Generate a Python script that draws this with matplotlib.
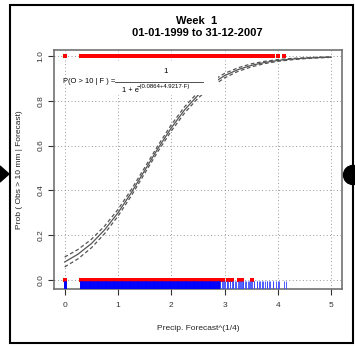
import matplotlib
matplotlib.use("Agg")
import matplotlib.pyplot as plt
from matplotlib.patches import Rectangle, Polygon, Ellipse

plt.rcParams["font.family"] = ["Liberation Sans", "DejaVu Sans"]

title = "Week  1\n01-01-1999 to 31-12-2007"
formula_lhs = "P(O > 10 | F ) ="
formula_den = "1 + e"
formula_exp = "\u2212(0.0864+4.9217\u00b7F)"

# fitted curve and confidence band
curve_f = [0.0, 0.25, 0.5, 0.75, 1.0, 1.25, 1.5, 1.75, 2.0, 2.25, 2.5,
           2.75, 3.0, 3.25, 3.5, 3.75, 4.0, 4.25, 4.5, 4.75, 5.0]
curve_p = [0.079, 0.114, 0.161, 0.223, 0.299, 0.389, 0.488, 0.587, 0.679,
           0.760, 0.825, 0.875, 0.913, 0.940, 0.959, 0.972, 0.981, 0.987,
           0.991, 0.994, 0.996]
band_w = [0.022, 0.021, 0.019, 0.017, 0.015, 0.014, 0.013, 0.013, 0.014,
          0.014, 0.013, 0.012, 0.010, 0.008, 0.007, 0.005, 0.004, 0.003,
          0.002, 0.0015, 0.001]

# forecasts (transformed) with obs > 10 mm
hits_f = [0.0,
          0.30, 0.35, 0.40, 0.45, 0.50, 0.55, 0.60, 0.65, 0.70, 0.75, 0.80,
          0.85, 0.90, 0.95, 1.00, 1.05, 1.10, 1.15, 1.20, 1.25, 1.30, 1.35,
          1.40, 1.45, 1.50, 1.55, 1.60, 1.65, 1.70, 1.75, 1.80, 1.85, 1.90,
          1.95, 2.00, 2.05, 2.10, 2.15, 2.20, 2.25, 2.30, 2.35, 2.40, 2.45,
          2.50, 2.55, 2.60, 2.65, 2.70, 2.75, 2.80, 2.85, 2.90, 2.95, 3.00,
          3.05, 3.10, 3.15, 3.20, 3.25, 3.30, 3.35, 3.40, 3.45, 3.50, 3.55,
          3.60, 3.65, 3.70, 3.75, 3.80, 3.85, 3.90, 4.00, 4.12]
# forecasts with obs <= 10 mm
miss_f = [0.0,
          0.30, 0.35, 0.40, 0.45, 0.50, 0.55, 0.60, 0.65, 0.70, 0.75, 0.80,
          0.85, 0.90, 0.95, 1.00, 1.05, 1.10, 1.15, 1.20, 1.25, 1.30, 1.35,
          1.40, 1.45, 1.50, 1.55, 1.60, 1.65, 1.70, 1.75, 1.80, 1.85, 1.90,
          1.95, 2.00, 2.05, 2.10, 2.15, 2.20, 2.25, 2.30, 2.35, 2.40, 2.45,
          2.50, 2.55, 2.60, 2.65, 2.70, 2.75, 2.80, 2.85, 2.90, 2.97,
          3.07, 3.14, 3.27, 3.32, 3.52]
# extra sparse forecasts in the upper tail (rug only)
tail_f = [2.92, 2.98, 3.04, 3.11, 3.16, 3.22, 3.29, 3.35, 3.38, 3.44,
          3.48, 3.56, 3.61, 3.66, 3.72, 3.79, 3.84, 3.91, 3.97, 4.03, 4.15]

fig = plt.figure(figsize=(3.55, 3.47), dpi=100)
ax = fig.add_axes([0.152, 0.167, 0.811, 0.689])

grid_kw = dict(color="#999999", lw=0.7, ls=(0, (1, 2.5)), zorder=0)
for gx in [0, 1, 2, 3, 4, 5]:
    ax.axvline(gx, **grid_kw)
for gy in [0, 0.2, 0.4, 0.6, 0.8, 1.0]:
    ax.axhline(gy, **grid_kw)

lo = [p - w for p, w in zip(curve_p, band_w)]
hi = [p + w for p, w in zip(curve_p, band_w)]
ax.plot(curve_f, curve_p, color="#555555", lw=0.9, zorder=2)
ax.plot(curve_f, lo, color="#555555", lw=0.9, ls=(0, (3, 2)), zorder=2)
ax.plot(curve_f, hi, color="#555555", lw=0.9, ls=(0, (3, 2)), zorder=2)

ax.plot(hits_f, [1.0] * len(hits_f), "s", color="red", ms=2.4, mew=0, zorder=3)
ax.plot(miss_f, [0.0] * len(miss_f), "s", color="red", ms=2.4, mew=0, zorder=3)

rug_main = hits_f[:54] + miss_f[:54]
ax.vlines(rug_main, -0.045, -0.005, color="blue", lw=2.0, zorder=4)
ax.vlines(hits_f[54:] + miss_f[54:] + tail_f, -0.045, -0.005,
          color="#3344ff", lw=0.6, zorder=4)

# formula legend with white background
ax.add_patch(Rectangle((0.02, 0.828), 2.85, 0.15, facecolor="white",
                       edgecolor="none", zorder=5))
ax.text(-0.03, 0.888, formula_lhs, fontsize=5.4, va="center", zorder=6)
ax.plot([0.94, 2.59], [0.884, 0.884], color="#333333", lw=0.6, zorder=6)
ax.text(1.90, 0.933, "1", fontsize=5.6, ha="center", va="center", zorder=6)
ax.text(1.08, 0.846, formula_den, fontsize=5.4, va="center", zorder=6)
ax.text(1.35, 0.866, formula_exp, fontsize=4.3, va="center", zorder=6)

ax.set_xlim(-0.2, 5.2)
ax.set_ylim(-0.042, 1.028)
ax.set_xticks([0, 1, 2, 3, 4, 5])
ax.set_yticks([0.0, 0.2, 0.4, 0.6, 0.8, 1.0])
ax.set_yticklabels(["0.0", "0.2", "0.4", "0.6", "0.8", "1.0"],
                   rotation=90, va="center")
ax.tick_params(labelsize=6, colors="#333333", length=4, width=0.8)
ax.tick_params(axis="y", pad=3)
ax.tick_params(axis="x", pad=5)
for s in ax.spines.values():
    s.set_color("#666666")
    s.set_linewidth(1.1)

ax.set_xlabel("Precip. Forecast^(1/4)", fontsize=6, labelpad=12, color="#222222")
ax.set_ylabel("Prob ( Obs > 10 mm | Forecast)", fontsize=6, labelpad=10,
              color="#222222")
fig.text(0.555, 0.922, title, fontsize=8, fontweight="bold", ha="center",
         va="center", linespacing=1.15)

# outer frame and side decorations
fig.patches.append(Rectangle((10 / 355, 1 - 343 / 347), 343 / 355, 338 / 347,
                             transform=fig.transFigure, fill=False,
                             edgecolor="black", lw=1.5))
fig.patches.append(Polygon([(0, 1 - 166 / 347), (0, 1 - 182 / 347),
                            (9 / 355, 1 - 174 / 347)], closed=True,
                           transform=fig.transFigure, color="black"))
fig.patches.append(Ellipse((353 / 355, 1 - 175 / 347), 19 / 355, 19 / 347,
                           transform=fig.transFigure, color="black"))

fig.savefig("out.png", dpi=100)
